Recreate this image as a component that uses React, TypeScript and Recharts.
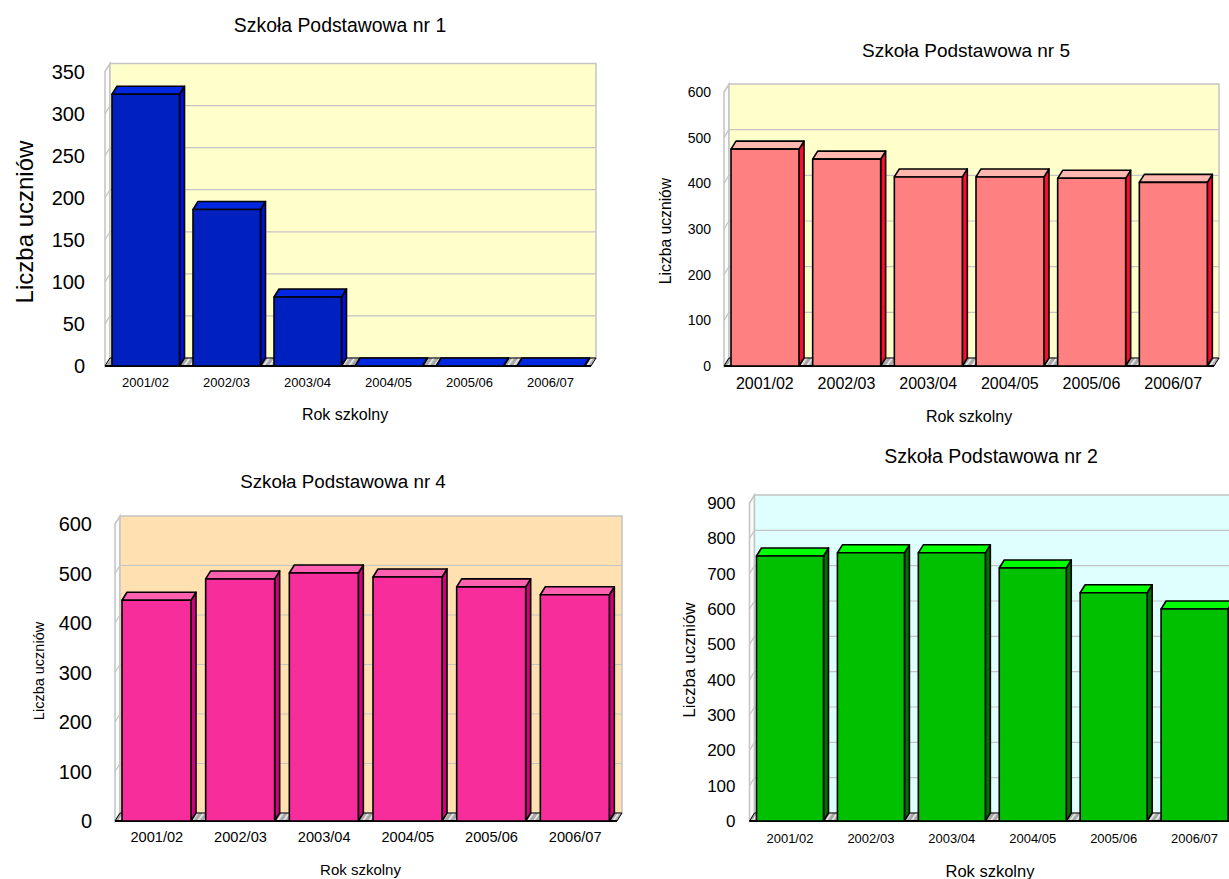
import React from 'react';
import { BarChart, Bar, XAxis, YAxis, ReferenceArea, ReferenceLine, Label } from 'recharts';

const FONT = '"Liberation Sans", Arial, sans-serif';
const years = ['2001/02', '2002/03', '2003/04', '2004/05', '2005/06', '2006/07'];
const valuesNr1 = [323, 186, 82, 0, 0, 0];
const valuesNr5 = [475, 453, 414, 414, 411, 402];
const valuesNr4 = [446, 489, 501, 493, 473, 457];
const valuesNr2 = [750, 759, 759, 716, 646, 600];
const ticksNr1 = [0, 50, 100, 150, 200, 250, 300, 350];
const ticksNr5 = [0, 100, 200, 300, 400, 500, 600];
const ticksNr4 = [0, 100, 200, 300, 400, 500, 600];
const ticksNr2 = [0, 100, 200, 300, 400, 500, 600, 700, 800, 900];
const xTitle = 'Rok szkolny';
const yTitle = 'Liczba uczniów';

type Cfg = {
  id: string; title: string; values: number[]; ticks: number[];
  box: number[]; plot: number[]; barW: number; wall: string;
  front: string; top: string; side: string;
  yFont: number; xFont: number; yGap: number; xGap: number;
  titlePos: number[]; titleFont: number; xLabelPos: number[]; xLabelFont: number;
  yLabelPos: number[]; yLabelFont: number;
};

const panels: Cfg[] = [
  { id: 'a', title: 'Szkoła Podstawowa nr 1', values: valuesNr1, ticks: ticksNr1,
    box: [0, 0, 615, 440], plot: [105, 71.5, 591, 366], barW: 67.5, wall: '#FFFFCC',
    front: '#0020C0', top: '#0028E0', side: '#0010D8',
    yFont: 20, xFont: 13, yGap: 20, xGap: 12,
    titlePos: [340, 32], titleFont: 19.4, xLabelPos: [345, 420], xLabelFont: 16,
    yLabelPos: [33, 222], yLabelFont: 24 },
  { id: 'b', title: 'Szkoła Podstawowa nr 5', values: valuesNr5, ticks: ticksNr5,
    box: [615, 20, 625, 420], plot: [724, 92, 1214, 366], barW: 68, wall: '#FFFFCC',
    front: '#FF8080', top: '#FFB8B0', side: '#FF0A30',
    yFont: 14, xFont: 16, yGap: 13, xGap: 12,
    titlePos: [966, 57], titleFont: 19, xLabelPos: [969, 422], xLabelFont: 16,
    yLabelPos: [671, 231], yLabelFont: 15.7 },
  { id: 'c', title: 'Szkoła Podstawowa nr 4', values: valuesNr4, ticks: ticksNr4,
    box: [0, 440, 640, 439], plot: [115, 524, 617, 821], barW: 69, wall: '#FFE0B0',
    front: '#F72D9B', top: '#FF60B0', side: '#D0007F',
    yFont: 20, xFont: 14.6, yGap: 23, xGap: 10.5,
    titlePos: [343, 488], titleFont: 18.8, xLabelPos: [360.5, 875], xLabelFont: 15,
    yLabelPos: [44, 671], yLabelFont: 14.5 },
  { id: 'd', title: 'Szkoła Podstawowa nr 2', values: valuesNr2, ticks: ticksNr2,
    box: [640, 440, 600, 439], plot: [749.5, 503, 1235, 821], barW: 67, wall: '#DFFFFF',
    front: '#00C000', top: '#00FF00', side: '#007000',
    yFont: 17, xFont: 13, yGap: 14, xGap: 13,
    titlePos: [991, 463], titleFont: 19.5, xLabelPos: [990, 877], xLabelFont: 16.5,
    yLabelPos: [695, 660], yLabelFont: 17 },
];

const DX = 5;
const DY = 8;
const GRID = '#C4C4C4';

const wallShape = (wall: string, id: string) => (p: any) => {
  const { x, y, width: w, height: h } = p;
  const b = y + h;
  return (
    <g>
      <defs>
        <pattern id={`hatch-${id}`} width={5} height={5} patternUnits="userSpaceOnUse" patternTransform="rotate(35)">
          <rect width={5} height={5} fill="#A8A8A8" />
          <rect width={1.5} height={5} fill="#F2F2F2" />
        </pattern>
      </defs>
      <polygon points={`${x},${y} ${x + DX},${y - DY} ${x + DX},${b - DY} ${x},${b}`} fill="#FBFBFB" stroke={GRID} strokeWidth={1.5} />
      <rect x={x + DX} y={y - DY} width={w} height={h} fill={wall} stroke={GRID} strokeWidth={1.5} />
      <polygon points={`${x},${b} ${x + DX},${b - DY} ${x + w + DX},${b - DY} ${x + w},${b}`} fill={`url(#hatch-${id})`} stroke="#000" strokeWidth={1} />
      <line x1={x} y1={b} x2={x + w} y2={b} stroke="#000" strokeWidth={1.8} />
    </g>
  );
};

const gridShape = (p: any) => {
  const { x, y, width: w } = p;
  return (
    <polyline points={`${x},${y} ${x + DX},${y - DY} ${x + w + DX},${y - DY}`} fill="none" stroke={GRID} strokeWidth={1.2} />
  );
};

const barShape = (c: Cfg) => (p: any) => {
  const { x, y, width: w, height: h } = p;
  const b = y + h;
  return (
    <g stroke="#000" strokeWidth={1.6} strokeLinejoin="round">
      <polygon points={`${x + w},${y} ${x + w + DX},${y - DY} ${x + w + DX},${b - DY} ${x + w},${b}`} fill={c.side} />
      <polygon points={`${x},${y} ${x + DX},${y - DY} ${x + w + DX},${y - DY} ${x + w},${y}`} fill={c.top} />
      {h > 0 && <rect x={x} y={y} width={w} height={h} fill={c.front} />}
    </g>
  );
};

function Panel({ c }: { c: Cfg }) {
  const [bl, bt, bw, bh] = c.box;
  const [pl, pt, pr, pb] = c.plot;
  const yW = 60;
  const xH = 30;
  const rows = years.map((year, i) => ({ year, value: c.values[i] }));
  const max = c.ticks[c.ticks.length - 1];
  const txt = (pos: number[], size: number, value: string, rot = false) => () => (
    <text
      x={pos[0] - bl} y={pos[1] - bt} textAnchor="middle" fontSize={size} fontFamily={FONT} fill="#000"
      transform={rot ? `rotate(-90 ${pos[0] - bl} ${pos[1] - bt})` : undefined}
    >{value}</text>
  );
  return (
    <div style={{ position: 'absolute', left: bl, top: bt, width: bw, height: bh }}>
      <BarChart
        width={bw} height={bh} data={rows} barSize={c.barW}
        margin={{ left: pl - bl - yW, top: pt - bt, right: bl + bw - pr, bottom: bt + bh - pb - xH }}
        style={{ overflow: 'visible' }}
      >
        <XAxis dataKey="year" height={xH} interval={0} tickLine={false} axisLine={false} tickSize={0} tickMargin={c.xGap}
          tick={{ fontSize: c.xFont, fontFamily: FONT, fill: '#000' }}>
          <Label content={txt(c.xLabelPos, c.xLabelFont, xTitle)} />
        </XAxis>
        <YAxis width={yW} domain={[0, max]} ticks={c.ticks} interval={0} tickLine={false} axisLine={false} tickSize={0} tickMargin={c.yGap}
          tick={{ fontSize: c.yFont, fontFamily: FONT, fill: '#000' }}>
          <Label content={txt(c.yLabelPos, c.yLabelFont, yTitle, true)} />
        </YAxis>
        <ReferenceArea y1={0} y2={max} ifOverflow="visible" shape={wallShape(c.wall, c.id)} />
        {c.ticks.slice(1, -1).map((t) => (
          <ReferenceArea key={t} y1={t} y2={t} ifOverflow="visible" shape={gridShape} />
        ))}
        <Bar dataKey="value" isAnimationActive={false} shape={barShape(c)} />
        <ReferenceLine y={max} ifOverflow="visible" stroke="none" label={{ content: txt(c.titlePos, c.titleFont, c.title) } as any} />
      </BarChart>
    </div>
  );
}

export default function App() {
  return (
    <div style={{ position: 'fixed', left: 0, top: 0, width: 1229, height: 879, overflow: 'hidden', background: '#fff' }}>
      {panels.map((c) => <Panel key={c.id} c={c} />)}
    </div>
  );
}
